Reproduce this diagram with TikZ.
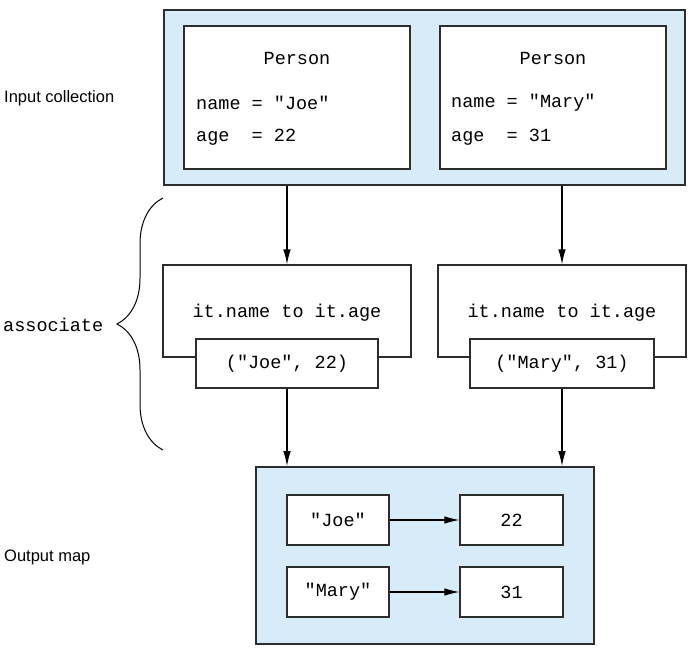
\documentclass[tikz,border=0pt]{standalone}
\usepackage{xcolor}
\usepackage{fontspec}
\setmonofont{Liberation Mono}
\newfontfamily\labelfont{Liberation Sans}
\usepackage{tikz}
\usetikzlibrary{positioning}
\usetikzlibrary{arrows.meta}
\usetikzlibrary{decorations.pathreplacing}

\definecolor{panelblue}{RGB}{215,236,248}
\definecolor{edgegray}{RGB}{45,45,45}

\begin{document}
\begin{tikzpicture}[x=1pt, y=-1pt,
    panel/.style={draw=edgegray, line width=1.6pt, fill=panelblue, inner sep=0pt},
    card/.style={draw=edgegray, line width=1.2pt, fill=white, inner sep=0pt,
        font=\ttfamily\fontsize{18.5}{22}\selectfont},
    code/.style={inner sep=0pt, font=\ttfamily\fontsize{18.5}{22}\selectfont},
    caption/.style={inner sep=0pt, anchor=west, font=\labelfont\fontsize{16.5}{20}\selectfont},
    flow/.style={line width=1.1pt, -{Latex[length=15pt,width=7.5pt]}}]
    \useasboundingbox (0,0) rectangle (693,648);

    % Input collection
    \node[panel, minimum width=521, minimum height=175] (input) at (424.5,97.5) {};
    \node[card, minimum width=226, minimum height=143] (joe) at (297,97.5) {};
    \node[card, minimum width=226, minimum height=143] (mary) at (553,97.5) {};
    \node[code] (joetitle) at (297,58) {Person};
    \node[code, anchor=west] (joename) at (196,103) {name = "Joe"};
    \node[code, anchor=west] (joeage) at (196,137) {age~~= 22};
    \node[code] (marytitle) at (553,58) {Person};
    \node[code, anchor=west] (maryname) at (451,103) {name = "Mary"};
    \node[code, anchor=west] (maryage) at (451,137) {age~~= 31};

    % associate step
    \node[card, minimum width=248, minimum height=92] (lambda1) at (287,311) {};
    \node[code] (lambdatext1) at (287,313) {it.name to it.age};
    \node[card, minimum width=248, minimum height=92] (lambda2) at (562,311) {};
    \node[code] (lambdatext2) at (562,313) {it.name to it.age};
    \node[card, minimum width=182, minimum height=49] (pair1) at (287,363.5) {("Joe", 22)};
    \node[card, minimum width=184, minimum height=49] (pair2) at (562,363.5) {("Mary", 31)};

    % Output map
    \node[panel, minimum width=338, minimum height=177] (output) at (425,555.5) {};
    \node[card, minimum width=102, minimum height=50] (keyjoe) at (338,520) {"Joe"};
    \node[card, minimum width=103, minimum height=50] (val22) at (511.5,520) {22};
    \node[card, minimum width=102, minimum height=50] (keymary) at (338,592) {"Mary"};
    \node[card, minimum width=103, minimum height=50] (val31) at (511.5,592) {31};

    % Arrows
    \draw[flow] (lambda1.north |- input.south) -- (lambda1.north);
    \draw[flow] (lambda2.north |- input.south) -- (lambda2.north);
    \draw[flow] (pair1.south) -- (pair1.south |- output.north);
    \draw[flow] (pair2.south) -- (pair2.south |- output.north);
    \draw[flow] (keyjoe.east) -- (val22.west);
    \draw[flow] (keymary.east) -- (val31.west);

    % Left side labels
    \node[caption] (inlabel) at (4,98) {Input collection};
    \node[code, anchor=west] (steplabel) at (3,325) {associate};
    \node[caption] (outlabel) at (4,557) {Output map};
    \draw[line width=1pt, decorate, decoration={brace, amplitude=46pt}]
        (163,450) -- (163,198);
\end{tikzpicture}
\end{document}
